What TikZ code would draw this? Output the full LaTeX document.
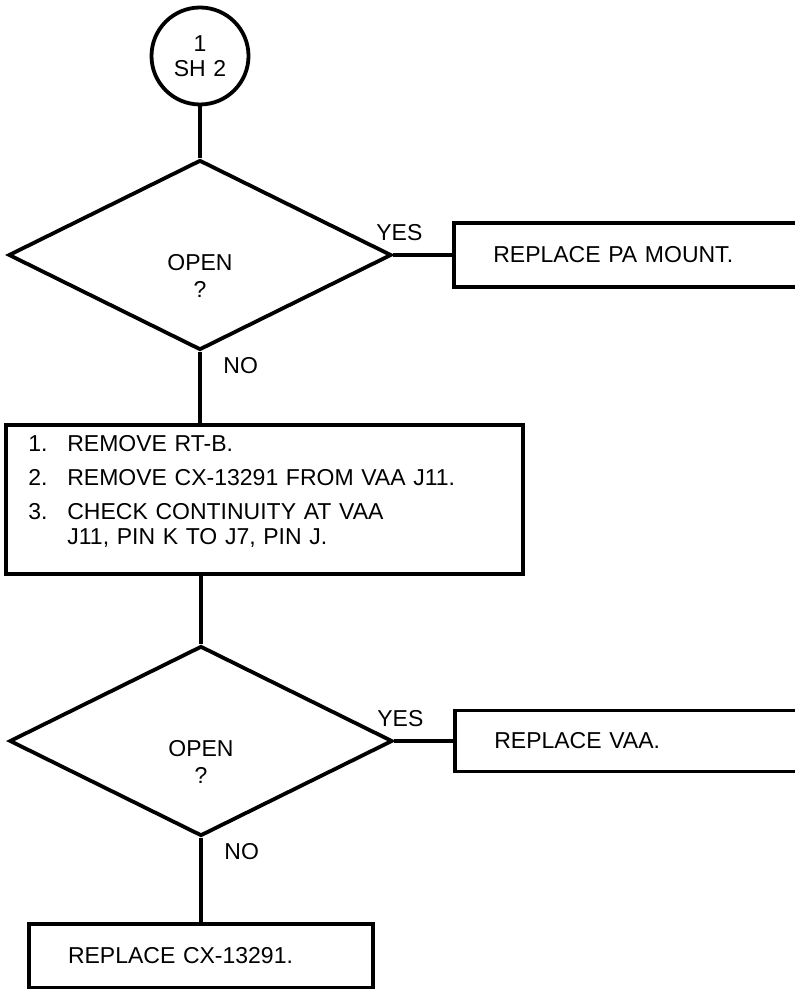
\documentclass[tikz,border=0pt]{standalone}
\usepackage{fontspec}
\setmainfont{Liberation Sans}[WordSpace=1.2]
\usepackage{tikz}
\usetikzlibrary{positioning, shapes.geometric}

\begin{document}
\begin{tikzpicture}[
    x=0.5pt, y=-0.5pt,
    font=\fontsize{11.5}{12.5}\selectfont,
    conn/.style={circle, draw, line width=1.9pt, minimum size=48.5pt, inner sep=0pt, align=center},
    dec/.style={diamond, draw, line width=1.9pt, minimum width=191.5pt, minimum height=95pt, inner sep=0pt},
    act/.style={rectangle, draw, line width=1.9pt, minimum height=32pt, inner xsep=19.5pt, inner ysep=0pt, align=left},
    qtext/.style={inner sep=0pt, align=center, font=\fontsize{11.5}{13.5}\selectfont},
    lbl/.style={inner sep=0pt},
    flow/.style={line width=1.9pt}
]
\useasboundingbox (0,0) rectangle (794,989);
\node[conn] (start) at (200,56) {1\\SH 2};
\node[dec] (dec1) at (200,255) {};
\node[qtext] (q1) at ([yshift=-10.5pt]dec1.center) {OPEN\\?};
\node[act, right=29.5pt of dec1, text width=160pt] (pa) {REPLACE PA MOUNT.};
\node[act, anchor=north west, minimum width=258.5pt, minimum height=74.5pt] (steps) at (4,423) {};
\node[lbl, anchor=north west, align=left] (stepstxt) at (28,435) {%
    \makebox[19.5pt][l]{1.}REMOVE RT-B.\\[4.5pt]
    \makebox[19.5pt][l]{2.}REMOVE CX-13291 FROM VAA J11.\\[4.5pt]
    \makebox[19.5pt][l]{3.}CHECK CONTINUITY AT VAA\\
    \hspace*{19.5pt}J11, PIN K TO J7, PIN J.};
\node[dec] (dec2) at (201,741) {};
\node[qtext] (q2) at ([yshift=-10.5pt]dec2.center) {OPEN\\?};
\node[act, right=29.5pt of dec2, text width=160pt, minimum height=30.5pt] (vaa) {REPLACE VAA.};
\node[act, below=42pt of dec2, text width=133pt] (cx) {REPLACE CX-13291.};
% branch labels
\node[lbl, above=7pt of dec1.east, xshift=3pt] (yes1) {YES};
\node[lbl, below right=2.5pt and 11.5pt of dec1.south] (no1) {NO};
\node[lbl, above=7pt of dec2.east, xshift=3pt] (yes2) {YES};
\node[lbl, below right=2.5pt and 11.5pt of dec2.south] (no2) {NO};
% connectors
\draw[flow] (start) -- (dec1);
\draw[flow] (dec1.east) -- (pa);
\draw[flow] (dec1.south) -- (dec1.south |- steps.north);
\draw[flow] (dec2.north |- steps.south) -- (dec2.north);
\draw[flow] (dec2.east) -- (vaa);
\draw[flow] (dec2.south) -- (cx);
\end{tikzpicture}
\end{document}
